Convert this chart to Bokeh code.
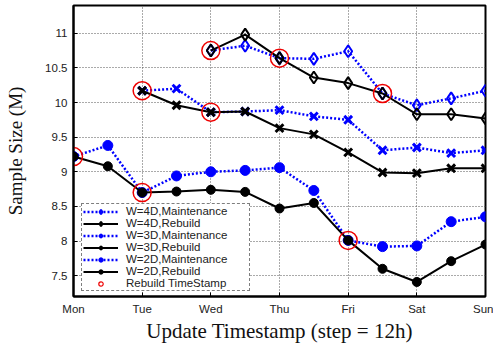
from bokeh.plotting import figure
from bokeh.models import Legend, LegendItem, FixedTicker
from bokeh.embed import file_html
from bokeh.resources import INLINE

# x positions: half-day steps from Monday (0) to Sunday (12)
steps = list(range(13))
day_ticks = [0, 2, 4, 6, 8, 10, 12]
day_labels = ["Mon", "Tue", "Wed", "Thu", "Fri", "Sat", "Sun"]

w4_x = steps[4:]
w4_maint = [10.75, 10.82, 10.64, 10.63, 10.74, 10.13, 9.96, 10.06, 10.17]
w4_rebuild = [10.75, 10.98, 10.64, 10.36, 10.28, 10.13, 9.83, 9.83, 9.77]

w3_x = steps[2:]
w3_maint = [10.17, 10.20, 9.86, 9.87, 9.89, 9.80, 9.75, 9.31, 9.35, 9.27, 9.31]
w3_rebuild = [10.17, 9.96, 9.86, 9.87, 9.63, 9.54, 9.28, 8.99, 8.98, 9.05, 9.05]

w2_x = steps
w2_maint = [9.22, 9.38, 8.70, 8.94, 9.00, 9.02, 9.06, 8.73, 8.01, 7.92, 7.93, 8.28, 8.35]
w2_rebuild = [9.22, 9.08, 8.70, 8.715, 8.74, 8.71, 8.47, 8.55, 8.01, 7.60, 7.41, 7.71, 7.95]

rebuild_x = [0, 2, 2, 4, 4, 6, 8, 9]
rebuild_y = [9.22, 8.70, 10.17, 10.75, 9.86, 10.64, 8.01, 10.13]

y_ticks = [7.5, 8, 8.5, 9, 9.5, 10, 10.5, 11]

BLUE = "#0000ff"
BLACK = "#000000"
DOT = "2 2"

p = figure(width=493, height=345, output_backend="svg", toolbar_location=None,
           x_range=(0, 12), y_range=(7.2, 11.4),
           min_border_left=73, min_border_right=8, min_border_top=5, min_border_bottom=45)
p.background_fill_color = "white"
p.border_fill_color = "white"
p.outline_line_color = "black"
p.outline_line_width = 2

# axes
p.xaxis.ticker = FixedTicker(ticks=day_ticks)
p.xaxis.major_label_overrides = {t: l for t, l in zip(day_ticks, day_labels)}
p.yaxis.ticker = FixedTicker(ticks=y_ticks)
p.yaxis.major_label_overrides = {t: (str(int(t)) if float(t).is_integer() else str(t)) for t in y_ticks}
for ax in (p.xaxis, p.yaxis):
    ax.major_tick_in = 4
    ax.major_tick_out = 0
    ax.minor_tick_line_color = None
    ax.axis_line_width = 2
    ax.major_tick_line_width = 1
    ax.major_label_text_font = "Liberation Sans"
    ax.major_label_text_font_size = "11.5px"
    ax.major_label_text_color = "#222222"
    ax.axis_label_text_font = "Liberation Serif"
    ax.axis_label_text_font_style = "normal"
    ax.axis_label_text_color = "#111111"
p.xaxis.axis_label = "Update Timestamp (step = 12h)"
p.yaxis.axis_label = "Sample Size (M)"
p.xaxis.axis_label_text_font_size = "21px"
p.yaxis.axis_label_text_font_size = "19px"
p.xaxis.major_label_standoff = 6
p.yaxis.major_label_standoff = 6
p.xaxis.axis_label_standoff = 1
p.yaxis.axis_label_standoff = 16

p.grid.grid_line_color = "#555555"
p.grid.grid_line_dash = "1 2"
p.grid.grid_line_width = 1
p.xgrid.ticker = FixedTicker(ticks=day_ticks)
p.ygrid.ticker = FixedTicker(ticks=y_ticks)

items = []

def series(x, y, color, dash, marker, size, fill, label, lw_marker):
    ln = p.line(x, y, line_color=color, line_width=2.5 if dash else 2, line_dash=dash if dash else "solid")
    sc = p.scatter(x, y, marker=marker, size=size, line_color=color, line_width=lw_marker,
                   fill_color=fill if fill else None)
    items.append(LegendItem(label=label, renderers=[ln, sc]))

series(w4_x, w4_maint, BLUE, DOT, "diamond", 12, None, "W=4D,Maintenance", 2)
series(w4_x, w4_rebuild, BLACK, None, "diamond", 12, None, "W=4D,Rebuild", 2)
series(w3_x, w3_maint, BLUE, DOT, "x", 11, None, "W=3D,Maintenance", 3)
series(w3_x, w3_rebuild, BLACK, None, "x", 11, None, "W=3D,Rebuild", 3)
series(w2_x, w2_maint, BLUE, DOT, "circle", 10, BLUE, "W=2D,Maintenance", 1)
series(w2_x, w2_rebuild, BLACK, None, "circle", 9, BLACK, "W=2D,Rebuild", 1)

rb = p.scatter(rebuild_x, rebuild_y, marker="circle", size=18, line_color="#ee0000",
               line_width=1.5, fill_color=None)
rb_leg = p.scatter([-10], [0], marker="circle", size=8, line_color="#ee0000",
                   line_width=1.2, fill_color=None)
items.append(LegendItem(label="Rebuild TimeStamp", renderers=[rb_leg]))

legend = Legend(items=items, location=(8, 5))
legend.border_line_color = "black"
legend.border_line_dash = "1 2"
legend.border_line_width = 1
legend.background_fill_color = "white"
legend.background_fill_alpha = 1
legend.label_text_font = "Liberation Sans"
legend.label_text_font_size = "11.5px"
legend.label_text_color = "#222222"
legend.glyph_width = 35
legend.glyph_height = 11
legend.label_height = 11
legend.label_width = 122
legend.label_standoff = 8
legend.spacing = -1
legend.padding = 1
legend.margin = 0
legend.label_text_line_height = 1.0
p.add_layout(legend, "center")

open("out.html", "w").write(file_html(p, INLINE))
